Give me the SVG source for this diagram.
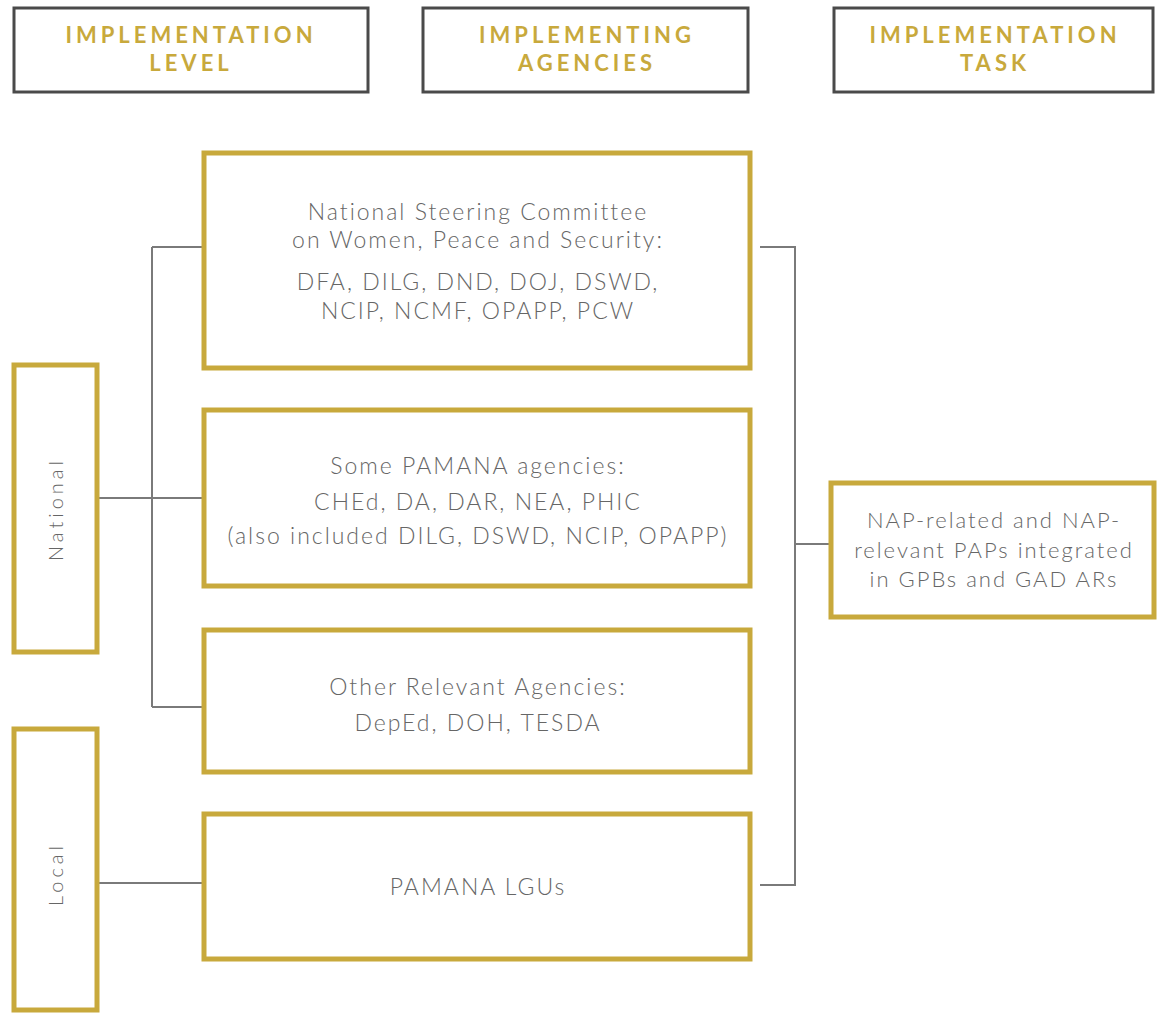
<svg xmlns="http://www.w3.org/2000/svg" width="1157" height="1014" viewBox="0 0 1157 1014">
<style>
.hdr{fill:#fff;stroke:#4a4a4a;stroke-width:3}
.box{fill:#fff;stroke:#c8a93c;stroke-width:5}
.ht{font-family:Lato,"Liberation Sans",sans-serif;font-weight:700;font-size:22px;fill:#c8a93c;letter-spacing:4px;text-anchor:middle}
.bt{font-family:Lato,"Liberation Sans",sans-serif;font-weight:300;font-size:23px;fill:#666;text-anchor:middle;letter-spacing:2px}
.nt{font-size:22px}
.vt{font-family:Lato,"Liberation Sans",sans-serif;font-weight:300;font-size:20px;fill:#666;text-anchor:middle;letter-spacing:4px}
.ln{stroke:#7a7a7a;stroke-width:2;fill:none}
</style>
<rect width="1157" height="1014" fill="#fff"/>
<g id="hdr-level"><rect class="hdr" x="14" y="8" width="354" height="84"/><text class="ht" x="191" y="43">IMPLEMENTATION</text><text class="ht" x="191" y="71">LEVEL</text></g>
<g id="hdr-agencies"><rect class="hdr" x="423" y="8" width="325" height="84"/><text class="ht" x="587" y="43">IMPLEMENTING</text><text class="ht" x="587" y="71">AGENCIES</text></g>
<g id="hdr-task"><rect class="hdr" x="834" y="8" width="319" height="84"/><text class="ht" x="995" y="43">IMPLEMENTATION</text><text class="ht" x="995" y="71">TASK</text></g>
<g id="connectors">
<path class="ln" d="M152 247V707M152 247H204M152 498H204M152 707H204M97 498H152M97 883H204"/>
<path class="ln" d="M760 247H795V885H760M795 544H831"/>
</g>
<g id="national"><rect class="box" x="14" y="365" width="83" height="287"/><text class="vt" transform="translate(63 509) rotate(-90)">National</text></g>
<g id="local"><rect class="box" x="14" y="729" width="83" height="281"/><text class="vt" transform="translate(63 874) rotate(-90)">Local</text></g>
<g id="nsc"><rect class="box" x="204" y="153" width="546" height="215"/>
<text class="bt" x="478" y="220">National Steering Committee</text>
<text class="bt" x="478" y="248">on Women, Peace and Security:</text>
<text class="bt" x="478" y="290">DFA, DILG, DND, DOJ, DSWD,</text>
<text class="bt" x="478" y="319">NCIP, NCMF, OPAPP, PCW</text></g>
<g id="pamana"><rect class="box" x="204" y="410" width="546" height="176"/>
<text class="bt" x="478" y="474">Some PAMANA agencies:</text>
<text class="bt" x="478" y="510">CHEd, DA, DAR, NEA, PHIC</text>
<text class="bt" x="478" y="544">(also included DILG, DSWD, NCIP, OPAPP)</text></g>
<g id="other"><rect class="box" x="204" y="630" width="546" height="142"/>
<text class="bt" x="478" y="695">Other Relevant Agencies:</text>
<text class="bt" x="478" y="731">DepEd, DOH, TESDA</text></g>
<g id="lgus"><rect class="box" x="204" y="814" width="546" height="145"/>
<text class="bt" x="478" y="895">PAMANA LGUs</text></g>
<g id="nap"><rect class="box" x="831" y="483" width="323" height="134"/>
<text class="bt nt" x="994" y="528">NAP-related and NAP-</text>
<text class="bt nt" x="994" y="558">relevant PAPs integrated</text>
<text class="bt nt" x="994" y="587">in GPBs and GAD ARs</text></g>
</svg>
